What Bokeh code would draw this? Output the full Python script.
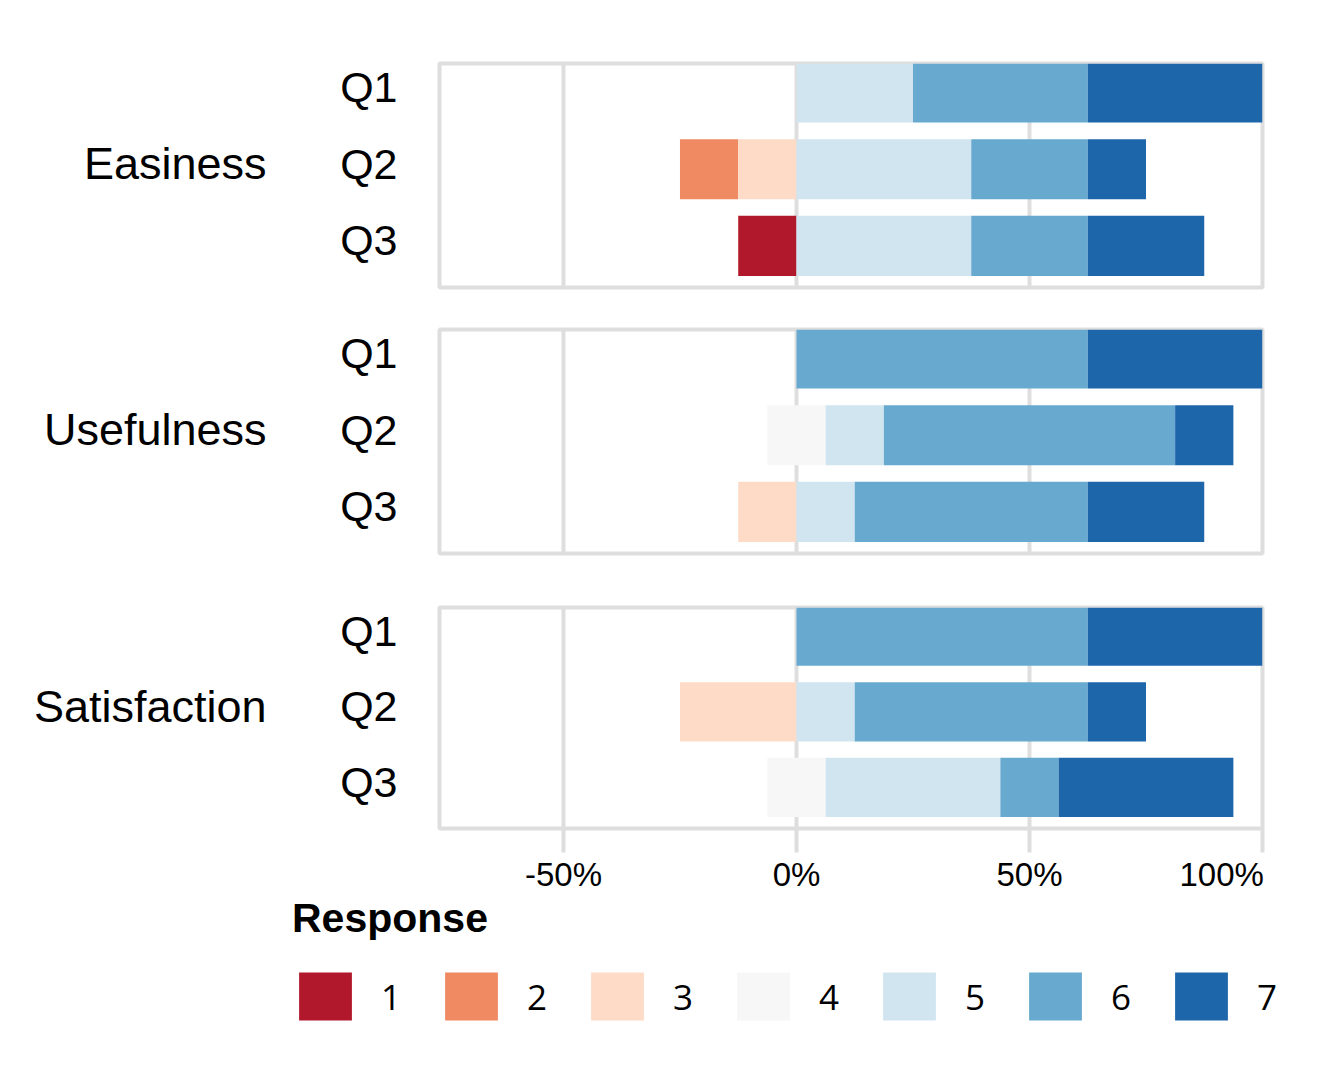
from bokeh.plotting import figure
from bokeh.layouts import column
from bokeh.models import (Range1d, FixedTicker, NumeralTickFormatter, LinearAxis,
                          Legend, LegendItem, ColumnDataSource)
from bokeh.embed import file_html
from bokeh.resources import INLINE

# ---------------- data ----------------
facets = ["Easiness", "Usefulness", "Satisfaction"]
questions = ["Q1", "Q2", "Q3"]
responses = ["1", "2", "3", "4", "5", "6", "7"]
colors = ["#b2182b", "#ef8a62", "#fddbc7", "#f7f7f7", "#d1e5f0", "#67a9cf", "#1d66aa"]

# percent of answers per response level
# order: Easiness Q1..Q3, Usefulness Q1..Q3, Satisfaction Q1..Q3
resp1 = [0, 0, 12.5, 0, 0, 0, 0, 0, 0]
resp2 = [0, 12.5, 0, 0, 0, 0, 0, 0, 0]
resp3 = [0, 12.5, 0, 0, 0, 12.5, 0, 25, 0]
resp4 = [0, 0, 0, 0, 12.5, 0, 0, 0, 12.5]
resp5 = [25, 37.5, 37.5, 0, 12.5, 12.5, 0, 12.5, 37.5]
resp6 = [37.5, 25, 25, 62.5, 62.5, 50, 62.5, 50, 12.5]
resp7 = [37.5, 12.5, 25, 37.5, 12.5, 25, 37.5, 12.5, 37.5]

x_ticks = [-0.5, 0, 0.5, 1.0]

levels = [resp1, resp2, resp3, resp4, resp5, resp6, resp7]


def segments(idx):
    vals = [lv[idx] / 100.0 for lv in levels]
    segs = [None] * 7
    half = vals[3] / 2.0
    segs[3] = (-half, half)
    pos = -half
    for k in (2, 1, 0):
        segs[k] = (pos - vals[k], pos)
        pos -= vals[k]
    pos = half
    for k in (4, 5, 6):
        segs[k] = (pos, pos + vals[k])
        pos += vals[k]
    return segs


FONT = "Liberation Sans"
GRID = "#dedede"
tops = [63, 21, 27]
bottoms = [21, 27, 64]
FRAME_H = 224
YMIN, YMAX = 0.4575, 3.379
LAB_SHIFT = 0.072   # labels sit slightly above the bar centres
nq = len(questions)
ys = [nq - i for i in range(nq)]
y_mid = sum(ys) // len(ys)

figs = []
for fi, facet in enumerate(facets):
    last = fi == len(facets) - 1
    p = figure(width=1325, height=tops[fi] + FRAME_H + bottoms[fi],
               x_range=Range1d(-0.766, 1.0), y_range=Range1d(YMIN, YMAX),
               output_backend="svg", toolbar_location=None, tools="",
               x_axis_location="below" if last else None, y_axis_location=None,
               min_border_left=439, min_border_right=63,
               min_border_top=tops[fi], min_border_bottom=bottoms[fi])
    p.extra_y_ranges = {"lab": Range1d(YMIN - LAB_SHIFT, YMAX - LAB_SHIFT)}
    p.outline_line_color = GRID
    p.outline_line_width = 4
    p.background_fill_color = "white"
    p.border_fill_color = "white"
    p.xgrid.ticker = FixedTicker(ticks=x_ticks)
    p.xgrid.grid_line_color = GRID
    p.xgrid.grid_line_width = 4
    p.ygrid.visible = False

    segs = [segments(fi * nq + qi) for qi in range(nq)]
    for k in range(len(responses)):
        src = ColumnDataSource(dict(
            y=ys,
            left=[segs[qi][k][0] for qi in range(nq)],
            right=[segs[qi][k][1] for qi in range(nq)],
        ))
        p.hbar(y="y", left="left", right="right", height=0.784, source=src,
               fill_color=colors[k], line_color=None)

    # question labels
    qa = LinearAxis(y_range_name="lab", ticker=FixedTicker(ticks=ys),
                    major_label_overrides={y: q for y, q in zip(ys, questions)},
                    axis_line_color=None, major_tick_line_color=None,
                    minor_tick_line_color=None, major_label_text_font=FONT,
                    major_label_text_font_size="43px", major_label_text_color="black",
                    major_label_standoff=36)
    p.add_layout(qa, "left")
    # facet label
    fa = LinearAxis(y_range_name="lab", ticker=FixedTicker(ticks=[y_mid]),
                    major_label_overrides={y_mid: facet},
                    axis_line_color=None, major_tick_line_color=None,
                    minor_tick_line_color=None, major_label_text_font=FONT,
                    major_label_text_font_size="45px", major_label_text_color="black",
                    major_label_standoff=65)
    p.add_layout(fa, "left")

    if last:
        xa = p.xaxis[0]
        xa.ticker = FixedTicker(ticks=x_ticks)
        xa.formatter = NumeralTickFormatter(format="0%")
        xa.major_label_overrides = {1: "100%\u2007\u2007\u2007\u2009"}
        xa.axis_line_color = None
        xa.major_tick_line_color = GRID
        xa.major_tick_line_width = 4
        xa.major_tick_out = 24
        xa.major_tick_in = 0
        xa.minor_tick_line_color = None
        xa.major_label_text_font = FONT
        xa.major_label_text_font_size = "33px"
        xa.major_label_text_color = "black"
        xa.major_label_standoff = 3
    figs.append(p)

# ---------------- legend ----------------
lg = figure(width=1325, height=150, x_range=Range1d(0, 1), y_range=Range1d(0, 1),
            x_axis_location=None, y_axis_location=None, output_backend="svg",
            toolbar_location=None, tools="", min_border_left=292, min_border_right=0,
            min_border_top=0, min_border_bottom=0)
if "frame_align" in lg.properties():
    lg.frame_align = False
lg.outline_line_color = None
lg.grid.visible = False
items = []
for k, r in enumerate(responses):
    rr = lg.hbar(y=[-10], left=[0], right=[0.1], height=0.5,
                 fill_color=colors[k], line_color=None)
    items.append(LegendItem(label=r, renderers=[rr]))
legend = Legend(items=items, orientation="horizontal", location="top_left",
                title="Response", title_text_font=FONT, title_text_font_style="bold",
                title_text_font_size="41px", title_text_color="black", title_standoff=24,
                label_text_font="Open Sans", label_text_font_size="35px",
                label_text_color="black", label_standoff=23, label_width=20,
                glyph_width=66, glyph_height=60, spacing=37, padding=0, margin=0,
                border_line_color=None, background_fill_alpha=0)
legend.padding = 0
lg.add_layout(legend)

layout = column(*figs, lg)
open("out.html", "w").write(file_html(layout, INLINE))
